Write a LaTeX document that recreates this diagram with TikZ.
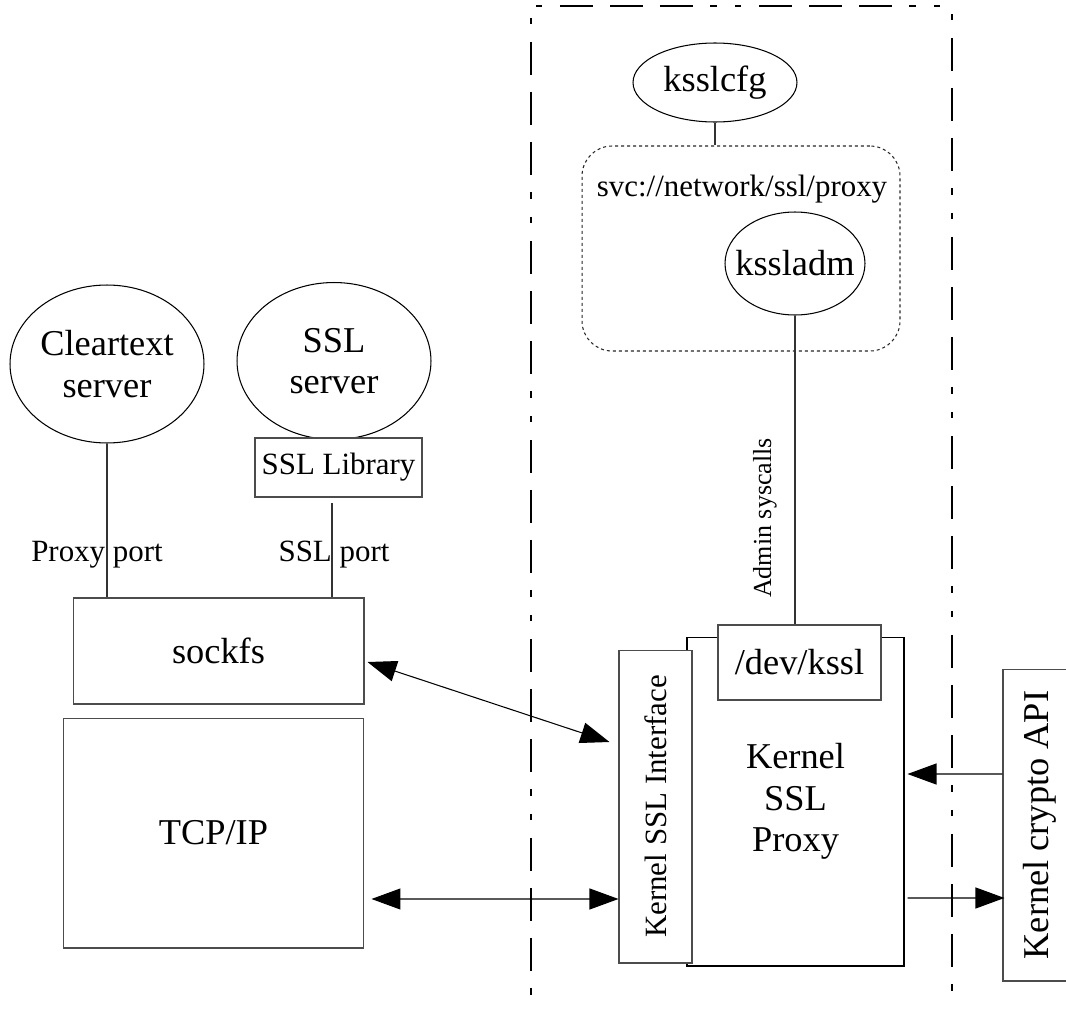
\documentclass[tikz,border=0pt]{standalone}
\usepackage{fontspec}
\setmainfont{Liberation Serif}
\usetikzlibrary{shapes.geometric,arrows.meta}

\newcommand{\lgfont}{\fontsize{20.7pt}{23.5pt}\selectfont}
\newcommand{\smfont}{\fontsize{17.6pt}{20pt}\selectfont}
\newcommand{\tnfont}{\fontsize{14.8pt}{17pt}\selectfont}

\tikzset{
	oval/.style={shape=ellipse, draw, line width=0.6pt, inner sep=0pt, align=center, font=\lgfont},
	box/.style={shape=rectangle, draw=black!70, line width=0.6pt, fill=white, inner sep=0pt, align=center},
	lbl/.style={inner sep=0pt, font=\smfont},
	wire/.style={draw=black!80, line width=0.6pt},
	bound/.style={line width=0.7pt, dash pattern=on 0.12cm off 0.36cm on 0.66cm off 0.34cm on 0.66cm off 0.34cm on 0.66cm off 0.34cm on 0.14cm off 0.36cm},
	arr/.style={-{Triangle[length=0.58cm,width=0.42cm]}, line width=0.6pt},
	dbl/.style={{Triangle[length=0.58cm,width=0.42cm]}-{Triangle[length=0.58cm,width=0.42cm]}, line width=0.6pt},
}

\begin{document}
\begin{tikzpicture}[x=0.02cm, y=-0.02cm]
	\clip (0,0) rectangle (1066,1011);

	\coordinate (tl) at (536,6);
	\coordinate (tr) at (943,6);
	\coordinate (lt) at (531,18);
	\coordinate (lb) at (531,999);
	\coordinate (rt) at (952,14);
	\coordinate (rb) at (952,997);
	\draw[bound] (tl) -- (tr);
	\draw[bound] (lt) -- (lb);
	\draw[bound] (rt) -- (rb);

	\node[oval, minimum width=3.88cm, minimum height=3.16cm] (clear) at (107,364) {Cleartext\\server};
	\node[oval, minimum width=3.88cm, minimum height=3.14cm] (sslsrv) at (334,361) {SSL\\server};
	\node[box, minimum width=3.34cm, minimum height=1.18cm, font=\smfont] (ssllib) at (338.5,467.5) {SSL Library};
	\node[box, minimum width=5.82cm, minimum height=2.12cm, font=\lgfont] (sockfs) at (218.5,651) {sockfs};
	\node[box, minimum width=6.02cm, minimum height=4.6cm, font=\lgfont] (tcpip) at (213.5,833) {TCP/IP};

	\node[oval, minimum width=3.28cm, minimum height=1.58cm] (ksslcfg) at (715,82.5) {ksslcfg};
	\node[draw=black!85, rounded corners=0.6cm, dash pattern=on 0.06cm off 0.06cm, line width=0.6pt, minimum width=6.36cm, minimum height=4.1cm] (svc) at (741,248.5) {};
	\node[lbl] (svclbl) at (742,189) {svc://network/ssl/proxy};
	\node[oval, inner xsep=-0.3cm, minimum width=2.8cm, minimum height=2.06cm] (kssladm) at (795,263.5) {kssladm};

	\node[box, draw=black, minimum width=4.34cm, minimum height=6.58cm, font=\lgfont] (proxy) at (795.5,801.5) {Kernel\\SSL\\Proxy};
	\node[box, minimum width=6.26cm, minimum height=1.46cm, rotate=90, font=\smfont] (ksslif) at (655.5,806.5) {Kernel SSL Interface};
	\node[box, minimum width=3.26cm, minimum height=1.5cm, font=\lgfont] (devkssl) at (799.5,662.5) {/dev/kssl};
	\node[box, minimum width=6.24cm, minimum height=1.48cm, rotate=90, font=\lgfont] (crypto) at (1040,825) {Kernel crypto API};

	\coordinate (sslp) at (332,503);
	\draw[wire] (ksslcfg.south) -- (ksslcfg.south |- svc.north);
	\draw[wire] (clear.south) -- (clear.south |- sockfs.north);
	\draw[wire] (sslp) -- (sslp |- sockfs.north);
	\draw[wire] (kssladm.south) -- (kssladm.south |- devkssl.north);

	\node[lbl] (proxyport) at (97,555) {Proxy port};
	\node[lbl] (sslport) at (334,555) {SSL port};
	\node[lbl, font=\tnfont, rotate=90] (admin) at (765,518) {Admin syscalls};

	\draw[dbl] ([xshift=0.06cm,yshift=-0.22cm]sockfs.east) -- ([xshift=-0.18cm,yshift=1.29cm]ksslif.north);
	\draw[dbl] ([xshift=0.14cm,yshift=-1.32cm]tcpip.east) -- ([yshift=-1.85cm]ksslif.north);
	\draw[arr] ([yshift=1.02cm]crypto.north) -- ([xshift=0.06cm,yshift=0.55cm]proxy.east);
	\draw[arr] ([xshift=0.06cm,yshift=-1.93cm]proxy.east) -- ([xshift=0.04cm,yshift=-1.46cm]crypto.north);
\end{tikzpicture}
\end{document}
